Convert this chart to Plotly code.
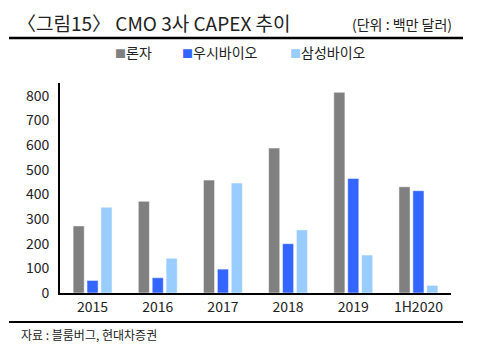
import plotly.graph_objects as go

categories = ["2015", "2016", "2017", "2018", "2019", "1H2020"]
lonza = [272, 372, 458, 588, 814, 431]
wuxi = [51, 62, 97, 200, 465, 415]
samsung = [348, 141, 446, 256, 154, 31]
series_names = ["론자", "우시바이오", "삼성바이오"]
colors = ["#808080", "#3366FF", "#99CCFF"]
y_ticks = [0, 100, 200, 300, 400, 500, 600, 700, 800]

FONT = "Noto Sans CJK KR"

fig = go.Figure()
for name, vals, col in zip(series_names, [lonza, wuxi, samsung], colors):
    fig.add_trace(go.Bar(
        x=categories, y=vals, name=name,
        marker=dict(color=col, line=dict(color="rgba(255,255,255,0.5)", width=1)),
    ))

W, H = 479, 350
L, R, T, B = 60, 28, 83, 57
pw, ph = W - L - R, H - T - B

def px(x):
    return (x - L) / pw

def py(y):
    return (H - B - y) / ph

legend_x = [113, 180, 288]
legend_ann = [
    dict(text=f"<span style='color:{c};font-size:11px'>■</span>{n}", xref="paper", yref="paper",
         x=px(lx), y=py(52), xanchor="left", yanchor="middle", showarrow=False,
         font=dict(size=14, family=FONT, color="#222222"))
    for n, c, lx in zip(series_names, colors, legend_x)
]

fig.update_layout(
    width=W, height=H,
    margin=dict(l=L, r=R, t=T, b=B),
    paper_bgcolor="white", plot_bgcolor="white",
    font=dict(family=FONT, color="#222222", size=14),
    barmode="group", bargap=0.36, bargroupgap=0.2,
    showlegend=False,
    xaxis=dict(showline=True, linecolor="black", linewidth=2, ticks="",
               tickfont=dict(size=14, family=FONT), showgrid=False),
    yaxis=dict(range=[0, 852], tickvals=y_ticks, showline=True, linecolor="black",
               linewidth=2, ticks="", showgrid=False, zeroline=False,
               tickfont=dict(size=14, family=FONT), ticklabelstandoff=6),
    shapes=[
        dict(type="line", xref="paper", yref="paper", x0=px(9), x1=px(463),
             y0=py(38), y1=py(38), line=dict(color="black", width=2.5)),
        dict(type="line", xref="paper", yref="paper", x0=px(9), x1=px(463),
             y0=py(322), y1=py(322), line=dict(color="black", width=2)),
    ],
    annotations=[
        dict(text="〈그림15〉 CMO 3사 CAPEX 추이", xref="paper", yref="paper",
             x=px(15), y=py(23), xanchor="left", yanchor="middle", showarrow=False,
             font=dict(size=19, family=FONT, color="#222222")),
        dict(text="(단위 : 백만 달러)", xref="paper", yref="paper",
             x=px(454), y=py(24), xanchor="right", yanchor="middle", showarrow=False,
             font=dict(size=14, family=FONT, color="#222222")),
        dict(text="자료 : 블룸버그, 현대차증권", xref="paper", yref="paper",
             x=px(19), y=py(334), xanchor="left", yanchor="middle", showarrow=False,
             font=dict(size=12, family=FONT, color="#222222")),
    ] + legend_ann,
)

fig.write_html("out.html")
